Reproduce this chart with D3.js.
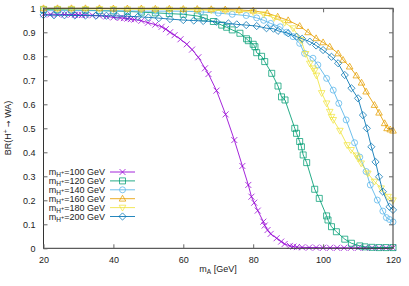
<!DOCTYPE html>
<html><head><meta charset="utf-8">
<script src="https://cdn.jsdelivr.net/npm/d3@7"></script>
<style>
body{margin:0;background:#fff;}
text{font-family:"Liberation Sans",Arial,sans-serif;fill:#222;}
</style></head>
<body><svg id="c" width="409" height="286"></svg>
<script>
const xTicks=[20,40,60,80,100,120];
const yTicks=[0,0.1,0.2,0.3,0.4,0.5,0.6,0.7,0.8,0.9,1];
const yTickLabels=["0","0.1","0.2","0.3","0.4","0.5","0.6","0.7","0.8","0.9","1"];
const seriesNames=["100","120","140","160","180","200"];
const seriesColors=["#9400d3","#009e73","#56b4e9","#e69f00","#f0e442","#0072b2"];
const seriesSymbols=["cross","square","circle","triUp","triDown","diamond"];

const x100=[20,22,24,26,28,29,30,31,32,34,36,38,40,42,43,44,45,46,48,49.9,52,53.8,55,56.2,57.5,59.2,61,62.5,64.3,66.2,67.2,69.5,72.1,74.6,76.9,78.6,79.5,80.3,81.3,82.9,83.3,84.1,85,86.7,88,89,90.5,91.5,92.5,94,96,98,100,102,104,106,108,110,112,114,116,118,120];
const y100=[0.975,0.975,0.975,0.974,0.974,0.973,0.973,0.972,0.972,0.971,0.969,0.966,0.962,0.96,0.959,0.957,0.955,0.953,0.948,0.94,0.932,0.923,0.913,0.9,0.888,0.871,0.85,0.828,0.796,0.75,0.726,0.657,0.558,0.451,0.343,0.264,0.215,0.19,0.157,0.111,0.095,0.076,0.06,0.042,0.028,0.018,0.01,0.007,0.005,0.004,0.003,0.003,0.002,0.002,0.002,0.002,0.002,0.002,0.002,0.002,0.002,0.002,0.002];

const x120=[20,24,28,32,36,40,44,48,52,56,60,64,66,68.6,71,72.4,74,76.2,78.1,78.6,80,80.5,81,82.4,83.3,85.3,87.1,88.1,89.1,91.9,92.4,93.3,93.8,94.3,95.3,97.6,98.9,101,101.4,102.4,103.8,106.2,108.1,110.5,112,114,116,118,120];
const y120=[0.995,0.994,0.993,0.992,0.99,0.989,0.987,0.984,0.981,0.978,0.975,0.968,0.96,0.945,0.93,0.921,0.91,0.896,0.873,0.865,0.85,0.84,0.815,0.8,0.778,0.729,0.676,0.631,0.618,0.5,0.479,0.445,0.423,0.389,0.357,0.246,0.208,0.135,0.118,0.09,0.069,0.038,0.021,0.01,0.006,0.004,0.003,0.003,0.003];

const x140=[20,24,28,32,36,40,44,48,52,56,60,65,70,74,78,81,83,85,87.7,89.5,91.4,93.3,94.7,97.1,98.5,101,102.9,104.5,106.6,109,110.5,112.3,113.5,115.5,117.1,118.1,119,120];
const y140=[0.99,0.99,0.99,0.99,0.99,0.989,0.989,0.988,0.988,0.988,0.988,0.985,0.98,0.975,0.97,0.96,0.95,0.937,0.923,0.9,0.882,0.854,0.812,0.792,0.764,0.708,0.659,0.604,0.535,0.44,0.38,0.32,0.264,0.201,0.155,0.128,0.12,0.11];

const x160=[20,24,28,32,36,40,44,48,52,56,60,64,68,72,76,80,84,87,90,93.3,95.7,98,100,101.9,104.3,105.7,107.6,109.5,111,112.3,114.7,116,117.6,118.3,119.2,120];
const y160=[1,1,1,1,1,0.999,0.999,0.999,0.998,0.998,0.997,0.997,0.996,0.995,0.993,0.99,0.98,0.965,0.95,0.926,0.9,0.875,0.858,0.84,0.812,0.785,0.757,0.72,0.69,0.653,0.597,0.565,0.521,0.5,0.495,0.49];

const x180=[20,24,28,32,36,40,44,48,52,56,60,64,68,72,76,80,83,86,89,91.4,93.7,95,96.2,97.1,97.6,98.1,99.6,101,101.9,102.4,102.9,104.8,106.9,108,109.5,110,110.9,112.8,114.7,116.6,118.6,120];
const y180=[0.998,0.998,0.998,0.997,0.997,0.997,0.996,0.996,0.995,0.995,0.994,0.993,0.992,0.99,0.988,0.984,0.975,0.96,0.94,0.917,0.868,0.81,0.77,0.75,0.74,0.72,0.647,0.604,0.569,0.548,0.535,0.49,0.43,0.41,0.387,0.375,0.354,0.312,0.278,0.25,0.215,0.2];

const x200=[20,23,26,29,32,35,38,41,44,47,50,53,56.2,60,63,65.7,69.5,72.9,75.3,78,81,83.8,85.8,87.1,90,92.4,94,96.2,98,100,102.4,104.3,106.2,108.1,110,111.4,112.5,113.8,115,116,117.1,119,120];
const y200=[0.972,0.971,0.971,0.97,0.97,0.969,0.969,0.968,0.967,0.965,0.962,0.959,0.955,0.951,0.949,0.947,0.944,0.937,0.933,0.93,0.926,0.917,0.915,0.906,0.896,0.882,0.873,0.861,0.845,0.826,0.798,0.771,0.722,0.667,0.625,0.555,0.5,0.423,0.36,0.298,0.236,0.173,0.16];

const allX=[x100,x120,x140,x160,x180,x200];
const allY=[y100,y120,y140,y160,y180,y200];

const svg=d3.select("#c");
const L=43.5,R=393,T=8.3,B=248.3;
const xs=d3.scaleLinear().domain([20,120]).range([L,R]);
const ys=d3.scaleLinear().domain([0,1]).range([B,T]);
const FS=9;

const line=d3.line().x(d=>xs(d[0])).y(d=>ys(d[1]));
function marker(g,type,cx,cy,color){
  const s=3;
  let p;
  if(type==="cross") p=`M${cx-s},${cy-s}L${cx+s},${cy+s}M${cx-s},${cy+s}L${cx+s},${cy-s}`;
  else if(type==="square") p=`M${cx-s},${cy-s}h${2*s}v${2*s}h${-2*s}Z`;
  else if(type==="triUp") p=`M${cx},${cy-s*1.15}L${cx+s*1.1},${cy+s*0.8}L${cx-s*1.1},${cy+s*0.8}Z`;
  else if(type==="triDown") p=`M${cx},${cy+s*1.15}L${cx+s*1.1},${cy-s*0.8}L${cx-s*1.1},${cy-s*0.8}Z`;
  else if(type==="diamond") p=`M${cx},${cy-s*1.2}L${cx+s*1.2},${cy}L${cx},${cy+s*1.2}L${cx-s*1.2},${cy}Z`;
  if(type==="circle") g.append("circle").attr("cx",cx).attr("cy",cy).attr("r",s).attr("fill","none").attr("stroke",color).attr("stroke-width",1).attr("stroke-opacity",0.75);
  else g.append("path").attr("d",p).attr("fill","none").attr("stroke",color).attr("stroke-width",1).attr("stroke-opacity",0.75);
}
const plot=svg.append("g");
seriesNames.forEach((n,i)=>{
  const pts=allX[i].map((xv,j)=>[xv,allY[i][j]]);
  const g=plot.append("g");
  g.append("path").attr("d",line(pts)).attr("fill","none").attr("stroke",seriesColors[i]).attr("stroke-width",1).attr("stroke-opacity",0.85);
  pts.forEach(p=>marker(g,seriesSymbols[i],xs(p[0]),ys(p[1]),seriesColors[i]));
});

svg.append("rect").attr("x",L).attr("y",T).attr("width",R-L).attr("height",B-T).attr("fill","none").attr("stroke","#333").attr("stroke-width",1);
const xa=d3.axisBottom(xs).tickValues(xTicks).tickSize(-4).tickPadding(8).tickFormat(d3.format("d"));
const gx=svg.append("g").attr("transform",`translate(0,${B})`).call(xa);
const xt=d3.axisTop(xs).tickValues(xTicks).tickSize(-4).tickFormat("");
const gxt=svg.append("g").attr("transform",`translate(0,${T})`).call(xt);
const ya=d3.axisLeft(ys).tickValues(yTicks).tickSize(-4).tickPadding(8).tickFormat((d,i)=>yTickLabels[i]);
const gy=svg.append("g").attr("transform",`translate(${L},0)`).call(ya);
const yr=d3.axisRight(ys).tickValues(yTicks).tickSize(-4).tickFormat("");
const gyr=svg.append("g").attr("transform",`translate(${R},0)`).call(yr);
[gx,gxt,gy,gyr].forEach(g=>{g.select(".domain").remove();g.selectAll("line").attr("stroke","#666");g.selectAll("text").attr("font-size",FS).attr("fill","#222").attr("font-family","Liberation Sans,Arial,sans-serif");});

const xl=svg.append("text").attr("x",218).attr("y",272).attr("text-anchor","middle").attr("font-size",FS);
xl.append("tspan").text("m");
xl.append("tspan").attr("dy",2).attr("font-size",6.5).text("A");
xl.append("tspan").attr("dy",-2).text(" [GeV]");
const yl=svg.append("text").attr("transform","translate(11,128) rotate(-90)").attr("text-anchor","middle").attr("font-size",FS);
yl.append("tspan").text("BR(H");
yl.append("tspan").attr("dy",-3.5).attr("font-size",6.5).text("+");
yl.append("tspan").attr("dy",3.5).text(" ");
yl.append("tspan").attr("font-family","DejaVu Sans").attr("font-size",8).text("\u2192");
yl.append("tspan").text(" WA)");

const leg=svg.append("g");
seriesNames.forEach((n,i)=>{
  const yy=172+i*8.9;
  const t=leg.append("text").attr("x",105).attr("y",yy+3.2).attr("text-anchor","end").attr("font-size",FS);
  t.append("tspan").text("m");
  t.append("tspan").attr("dy",2).attr("font-size",6.5).text("H");
  t.append("tspan").attr("dy",-3).attr("font-size",5.5).text("+");
  t.append("tspan").attr("dy",1).text("="+n+" GeV");
  leg.append("line").attr("x1",110).attr("x2",135).attr("y1",yy).attr("y2",yy).attr("stroke",seriesColors[i]).attr("stroke-width",1).attr("stroke-opacity",0.85);
  marker(leg,seriesSymbols[i],122.5,yy,seriesColors[i]);
});
</script></body></html>
